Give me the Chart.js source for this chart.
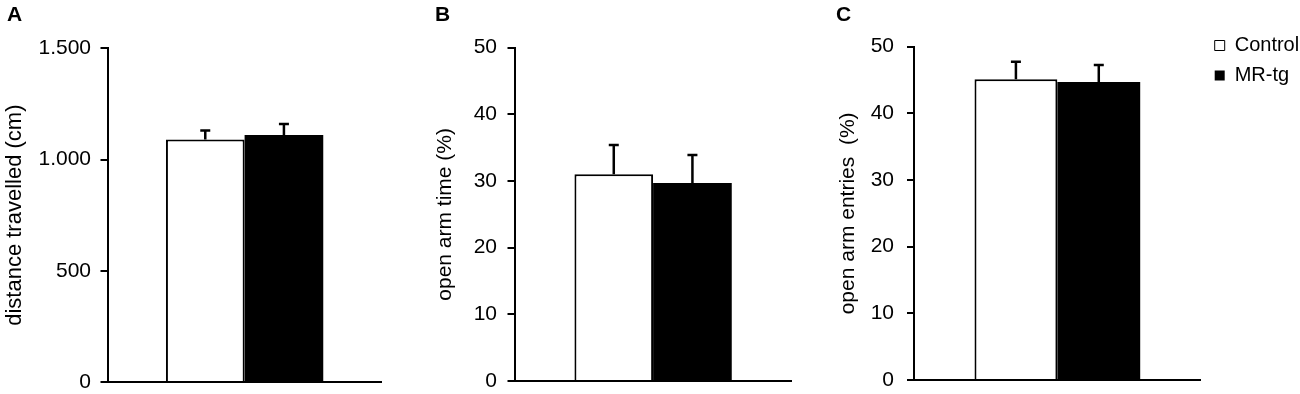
<!DOCTYPE html>
<html>
<head>
<meta charset="utf-8">
<script src="https://cdn.jsdelivr.net/npm/chart.js@4/dist/chart.umd.min.js"></script>
<style>
html,body{margin:0;padding:0;background:#fff;overflow:hidden;width:1300px;height:394px;position:relative}
canvas{position:absolute;top:0}
.lbl{position:absolute;top:4px;font:bold 21px "Liberation Sans",Arial,sans-serif;line-height:20px;color:#000}
</style>
</head>
<body>
<canvas id="cA" width="410" height="394" style="left:0px"></canvas>
<canvas id="cB" width="410" height="394" style="left:410px"></canvas>
<canvas id="cC" width="480" height="394" style="left:820px"></canvas>
<div class="lbl" style="left:7px">A</div>
<div class="lbl" style="left:435px">B</div>
<div class="lbl" style="left:836px">C</div>
<script>
// ---- data ----
const groups = ['Control', 'MR-tg'];
const distanceMean = [1090, 1110];
const distanceErr = [40, 50];
const openTimeMean = [31.0, 29.7];
const openTimeErr = [4.4, 4.2];
const openEntriesMean = [45.1, 44.7];
const openEntriesErr = [2.65, 2.55];
const distanceTickValues = [0, 500, 1000, 1500];
const distanceTickLabels = ['0', '500', '1.000', '1.500'];
const percentTickValues = [0, 10, 20, 30, 40, 50];
const percentTickLabels = ['0', '10', '20', '30', '40', '50'];
const yTitles = ['distance travelled (cm)', 'open arm time (%)', 'open arm entries  (%)'];

const FAMILY = '"Liberation Sans", Arial, Helvetica, sans-serif';

const errorBars = {
  id: 'errorBars',
  afterDatasetsDraw(chart, args, opts) {
    const ctx = chart.ctx, y = chart.scales.y;
    ctx.save();
    ctx.strokeStyle = '#000';
    ctx.lineWidth = opts.lineWidth || 2;
    const half = opts.capHalf || 5;
    chart.data.datasets.forEach((ds, i) => {
      const meta = chart.getDatasetMeta(i);
      meta.data.forEach((bar, j) => {
        const top = y.getPixelForValue(ds.data[j] + ds.errors[j]);
        ctx.beginPath();
        ctx.moveTo(bar.x, bar.y);
        ctx.lineTo(bar.x, top);
        ctx.moveTo(bar.x - half, top);
        ctx.lineTo(bar.x + half, top);
        ctx.stroke();
      });
    });
    ctx.restore();
  }
};

const legendOffset = {
  id: 'legendOffset',
  afterLayout(chart, args, opts) {
    const lg = chart.legend;
    if (!lg || !lg.options.display) return;
    const dx = opts.dx || 0, dy = opts.dy || 0;
    lg.left += dx; lg.right += dx; lg.top += dy; lg.bottom += dy;
  }
};

function makeChart(id, p) {
  const tickMap = (v) => {
    const k = p.tickValues.indexOf(v);
    return k >= 0 ? p.tickLabels[k] : '';
  };
  return new Chart(document.getElementById(id), {
    type: 'bar',
    data: {
      labels: [''],
      datasets: [
        { label: groups[0], data: [p.mean[0]], errors: [p.err[0]],
          backgroundColor: '#ffffff', borderColor: '#000000', borderWidth: 2 },
        { label: groups[1], data: [p.mean[1]], errors: [p.err[1]],
          backgroundColor: '#000000', borderColor: '#000000', borderWidth: 0 }
      ]
    },
    options: {
      responsive: false,
      animation: false,
      events: [],
      layout: { padding: p.padding },
      datasets: { bar: { categoryPercentage: p.catPct, barPercentage: 1 } },
      scales: {
        x: {
          ticks: { display: false },
          grid: { display: false, drawTicks: false },
          border: { display: true, color: '#000', width: 2 }
        },
        y: {
          min: 0, max: p.max,
          afterFit: (s) => { s.width = p.axisWidth; },
          ticks: {
            stepSize: p.step, padding: p.tickPad, color: '#000',
            font: { size: 21, family: FAMILY, lineHeight: 0.04 },
            callback: (v) => tickMap(v)
          },
          grid: { drawOnChartArea: false, drawTicks: true, tickLength: 7,
                  lineWidth: 2, color: '#000', tickColor: '#000' },
          border: { display: true, color: '#000', width: 2 },
          title: { display: true, text: p.title, color: '#000',
                   font: { size: p.titleSize, family: FAMILY },
                   padding: { top: p.titlePad, bottom: 0 } }
        }
      },
      plugins: {
        tooltip: { enabled: false },
        title: { display: false },
        errorBars: { lineWidth: 2.5, capHalf: 5 },
        legendOffset: p.legendOffset || {},
        legend: p.legend ? {
          display: true, position: 'right', align: 'start', maxWidth: p.legendWidth,
          labels: {
            boxWidth: 10, boxHeight: 10, padding: 10, color: '#000',
            font: { size: 20, family: FAMILY },
            generateLabels: (chart) => Chart.defaults.plugins.legend.labels.generateLabels(chart)
              .map(it => Object.assign({}, it, { lineWidth: it.lineWidth ? 1 : 0 }))
          }
        } : { display: false }
      }
    },
    plugins: [errorBars, legendOffset]
  });
}

makeChart('cA', {
  mean: distanceMean, err: distanceErr, max: 1500, step: 500,
  tickValues: distanceTickValues, tickLabels: distanceTickLabels,
  title: yTitles[0], titleSize: 22, titlePad: 1.5, tickPad: 9.5, axisWidth: 107.5,
  padding: { left: 0, top: 48.3, right: 28.3, bottom: 12 }, catPct: 0.5737
});
makeChart('cB', {
  mean: openTimeMean, err: openTimeErr, max: 50, step: 10,
  tickValues: percentTickValues, tickLabels: percentTickLabels,
  title: yTitles[1], titleSize: 21, titlePad: 22.9, tickPad: 10.5, axisWidth: 104.5,
  padding: { left: 0, top: 47.7, right: 28.3, bottom: 13 }, catPct: 0.5675
});
makeChart('cC', {
  mean: openEntriesMean, err: openEntriesErr, max: 50, step: 10,
  tickValues: percentTickValues, tickLabels: percentTickLabels,
  title: yTitles[2], titleSize: 21, titlePad: 15.4, tickPad: 13, axisWidth: 94,
  padding: { left: 0, top: 46.7, right: 0, bottom: 14 }, catPct: 0.578,
  legend: true, legendWidth: 99.3, legendOffset: { dx: 4, dy: -21.2 }
});
</script>
</body>
</html>
